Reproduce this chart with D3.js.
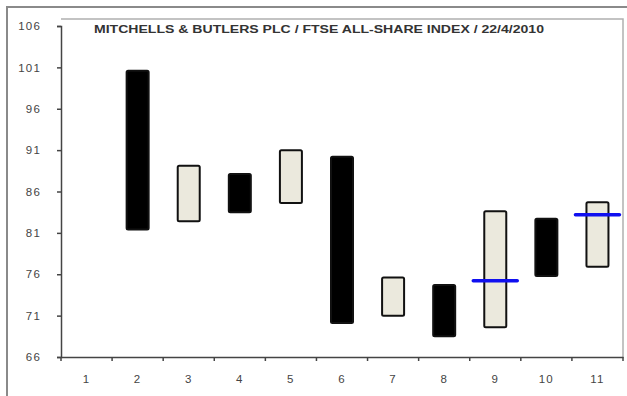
<!DOCTYPE html>
<html><head><meta charset="utf-8">
<script src="https://cdn.jsdelivr.net/npm/d3@7"></script>
<style>
html,body{margin:0;padding:0;background:#fff;}
svg{display:block;}
text{font-family:"Liberation Sans",Arial,sans-serif;}
</style></head>
<body><svg id="c" width="627" height="396"></svg>
<script>
const categories = ["1","2","3","4","5","6","7","8","9","10","11"];
const openVals  = [null, 100.6, 82.4, 88.1, 84.6, 90.2, 71.0, 74.7, 69.6, 82.7, 76.9];
const closeVals = [null, 81.4, 89.1, 83.5, 91.0, 70.1, 75.6, 68.5, 83.6, 75.8, 84.7];
const markerVals = [null, null, null, null, null, null, null, null, 75.2, null, 83.2];
const yTicks = [66, 71, 76, 81, 86, 91, 96, 101, 106];
const title = "MITCHELLS & BUTLERS PLC / FTSE ALL-SHARE INDEX / 22/4/2010";

const svg = d3.select("#c");
const L = 61, R = 623, B = 357, T = 26;

const x = d3.scaleBand().domain(categories).range([L, R]).padding(0);
const y = d3.scaleLinear().domain([66, 106]).range([B, T]);

// outer frame
svg.append("path").attr("d", `M7,396 V7 H627`).attr("fill","none")
  .attr("stroke","#8a8a8a").attr("stroke-width",2);
// plot frame top & right
svg.append("path").attr("d", `M${L},19 H${R} V${B}`).attr("fill","none")
  .attr("stroke","#b0b0b0").attr("stroke-width",1.5);

// y axis
const yAxis = svg.append("g").attr("transform", `translate(${L},0)`)
  .call(d3.axisLeft(y).tickValues(yTicks).tickSize(4).tickPadding(16).tickFormat(d3.format("d")));
yAxis.select(".domain").attr("stroke","#444").attr("stroke-width",1.5);
yAxis.selectAll(".tick line").attr("stroke","#444").attr("stroke-width",1.5);
yAxis.selectAll("text").attr("font-size",11.5).attr("letter-spacing","1.2px").attr("fill","#444")
  .attr("font-family","Liberation Sans, Arial, sans-serif");

// x axis
const xAxis = svg.append("g").attr("transform", `translate(0,${B})`)
  .call(d3.axisBottom(x).tickSize(0).tickPadding(18));
xAxis.select(".domain").attr("stroke","#444").attr("stroke-width",1.5);
xAxis.selectAll("text").attr("font-size",11.5).attr("letter-spacing","1.2px").attr("fill","#444")
  .attr("font-family","Liberation Sans, Arial, sans-serif");
// category boundary tick marks
const bounds = categories.map(c => x(c)).concat([R]);
svg.append("g").selectAll("line").data(bounds).join("line")
  .attr("x1", d => d).attr("x2", d => d).attr("y1", B).attr("y2", B + 4)
  .attr("stroke","#444").attr("stroke-width",1.5);

// bars
const bw = 22;
const data = categories.map((c, i) => ({c, o: openVals[i], cl: closeVals[i], m: markerVals[i]}));
svg.append("g").selectAll("rect").data(data.filter(d => d.o != null)).join("rect")
  .attr("x", d => x(d.c) + x.bandwidth()/2 - bw/2)
  .attr("width", bw)
  .attr("y", d => y(Math.max(d.o, d.cl)))
  .attr("height", d => Math.abs(y(d.o) - y(d.cl)))
  .attr("rx", 1.5)
  .attr("fill", d => d.cl >= d.o ? "#ebe9dd" : "#000")
  .attr("stroke", "#111").attr("stroke-width", 2);

// blue markers
svg.append("g").selectAll("line").data(data.filter(d => d.m != null)).join("line")
  .attr("x1", d => Math.max(L, x(d.c) + x.bandwidth()/2 - 22))
  .attr("x2", d => Math.min(R, x(d.c) + x.bandwidth()/2 + 22))
  .attr("y1", d => y(d.m)).attr("y2", d => y(d.m))
  .attr("stroke", "#1010f0").attr("stroke-width", 3.5).attr("stroke-linecap","round");

// title
svg.append("text").attr("x", 94).attr("y", 33).attr("font-size", 10.5).attr("font-weight","bold")
  .attr("fill","#333").attr("textLength", 450).attr("lengthAdjust","spacingAndGlyphs").text(title);
</script></body></html>
